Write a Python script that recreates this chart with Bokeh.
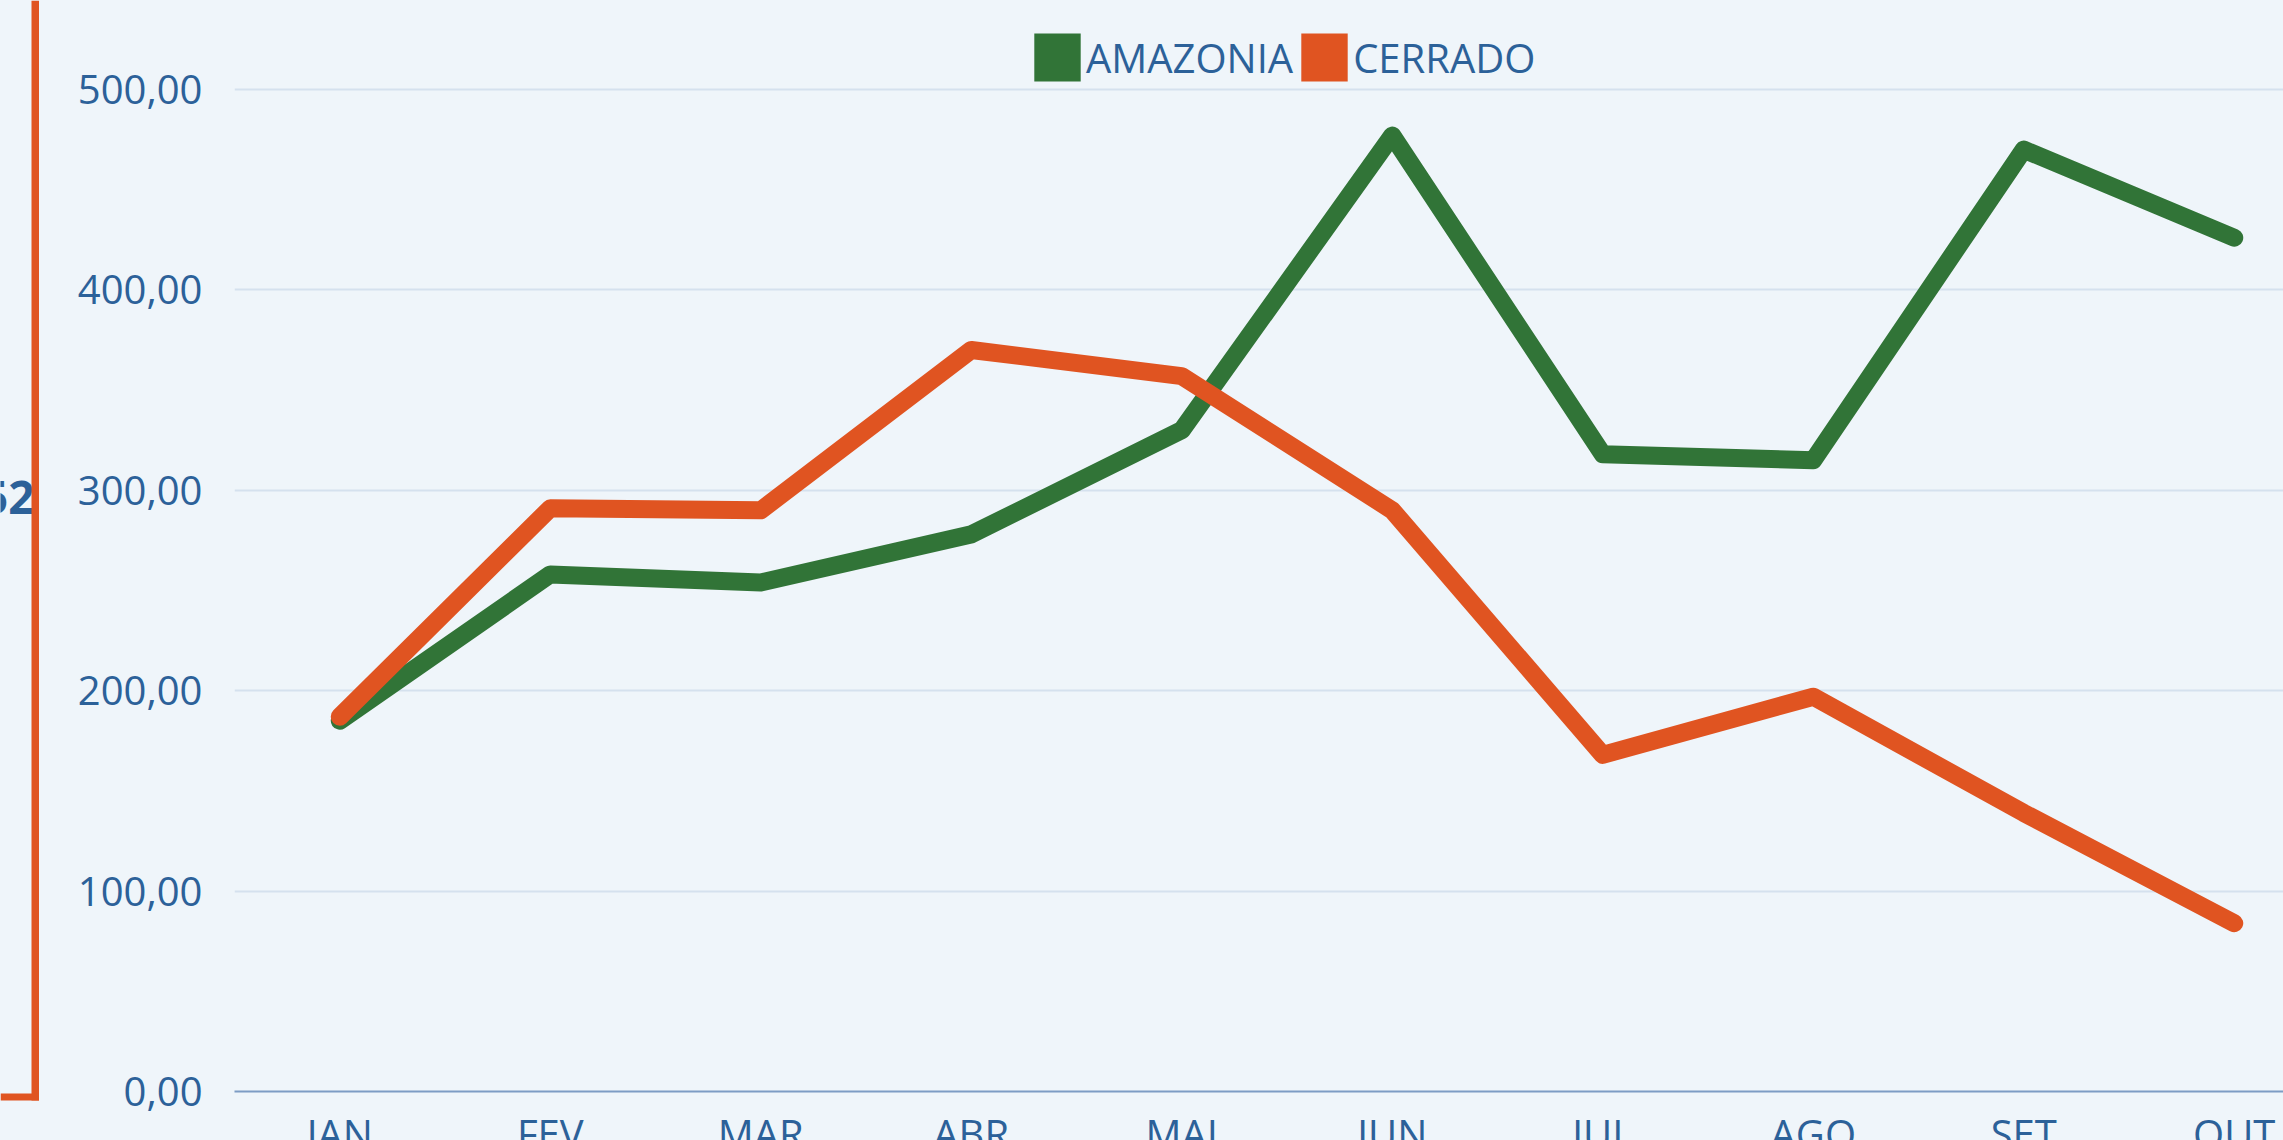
from bokeh.plotting import figure
from bokeh.layouts import row
from bokeh.models import Range1d, FixedTicker, Legend, LegendItem, CustomJSTickFormatter, GlobalInlineStyleSheet
from bokeh.core.properties import value
from bokeh.embed import file_html
from bokeh.resources import INLINE

months = ["JAN", "FEV", "MAR", "ABR", "MAI", "JUN", "JUL", "AGO", "SET", "OUT"]
amazonia = [185, 258, 254, 278, 330, 477, 318, 315, 470, 426]
cerrado = [187, 291, 290, 370, 357, 290, 168, 197, 139, 84]
y_ticks = [0, 100, 200, 300, 400, 500]
card_value = "52"

BG = "#eff5fa"
BLUE = "#2c6199"
GREEN = "#317437"
ORANGE = "#e05421"
FONT = "Open Sans"

WIN_H = 1140

# left (cropped) card
CW = 39
card = figure(frame_width=CW, frame_height=WIN_H, x_range=Range1d(0, CW), y_range=Range1d(0, WIN_H),
              output_backend="svg", toolbar_location=None, min_border=0,
              x_axis_location=None, y_axis_location=None, title=None)
card.grid.visible = False
card.outline_line_color = None
card.background_fill_color = BG
card.border_fill_color = BG
card.text(x=[34], y=[WIN_H - 497], text=[card_value], text_align="right", text_baseline="middle",
          text_font=value(FONT), text_font_style="bold", text_font_size="46px", text_color=BLUE)
card.quad(left=[31], right=[39], bottom=[WIN_H - 1100], top=[WIN_H], fill_color=ORANGE, line_color=None)
card.quad(left=[0], right=[39], bottom=[WIN_H - 1100], top=[WIN_H - 1093], fill_color=ORANGE, line_color=None)

# main chart
left_border = 195
frame_w = 2283 - CW - left_border
frame_h = 1091
step = 210.5
x_end = -0.5 + frame_w / step
y_end = 544.4

p = figure(frame_width=frame_w, frame_height=frame_h,
           x_range=Range1d(-0.5, x_end), y_range=Range1d(0, y_end),
           output_backend="svg", toolbar_location=None, title=None,
           min_border_left=left_border, min_border_right=0, min_border_top=0, min_border_bottom=0)
p.background_fill_color = BG
p.border_fill_color = BG
p.outline_line_color = None

p.xgrid.visible = False
p.ygrid.grid_line_color = "#d5e1ee"
p.ygrid.grid_line_width = 2
p.yaxis.ticker = FixedTicker(ticks=y_ticks)
p.yaxis.formatter = CustomJSTickFormatter(code="return tick.toFixed(2).replace('.', ',');")
p.yaxis.axis_line_color = None
p.yaxis.major_tick_line_color = None
p.yaxis.minor_tick_line_color = None
p.yaxis.major_tick_out = 0
p.yaxis.major_label_standoff = 32

p.xaxis.ticker = FixedTicker(ticks=list(range(len(months))))
p.xaxis.major_label_overrides = {i: m for i, m in enumerate(months)}
p.xaxis.axis_line_color = "#7d9cc4"
p.xaxis.axis_line_width = 2
p.xaxis.major_tick_line_color = None
p.xaxis.minor_tick_line_color = None
p.xaxis.major_tick_out = 0
p.xaxis.major_label_standoff = 14

for ax in (p.xaxis, p.yaxis):
    ax.major_label_text_font = FONT
    ax.major_label_text_font_size = "40px"
    ax.major_label_text_color = BLUE

xs = list(range(len(months)))
p.line(xs, amazonia, line_color=GREEN, line_width=18, line_cap="round", line_join="round")
p.line(xs, cerrado, line_color=ORANGE, line_width=18, line_cap="round", line_join="round")

nan = float("nan")
lg_g = p.quad(left=[nan], right=[nan], top=[nan], bottom=[nan], fill_color=GREEN, line_color=None)
lg_o = p.quad(left=[nan], right=[nan], top=[nan], bottom=[nan], fill_color=ORANGE, line_color=None)
legend = Legend(items=[LegendItem(label="AMAZONIA", renderers=[lg_g], index=0),
                       LegendItem(label="CERRADO", renderers=[lg_o], index=0)],
                location=(794, frame_h - 27 - 60), orientation="horizontal",
                glyph_width=58, glyph_height=60, label_height=60, label_standoff=0,
                spacing=2, padding=0, margin=0,
                border_line_alpha=0, background_fill_alpha=0,
                label_text_font=FONT, label_text_font_size="40px", label_text_color=BLUE)
p.add_layout(legend)

layout = row(card, p, spacing=0,
             stylesheets=[GlobalInlineStyleSheet(css="html, body { overflow: hidden; background: #eff5fa; }")])
open("out.html", "w").write(file_html(layout, INLINE))
